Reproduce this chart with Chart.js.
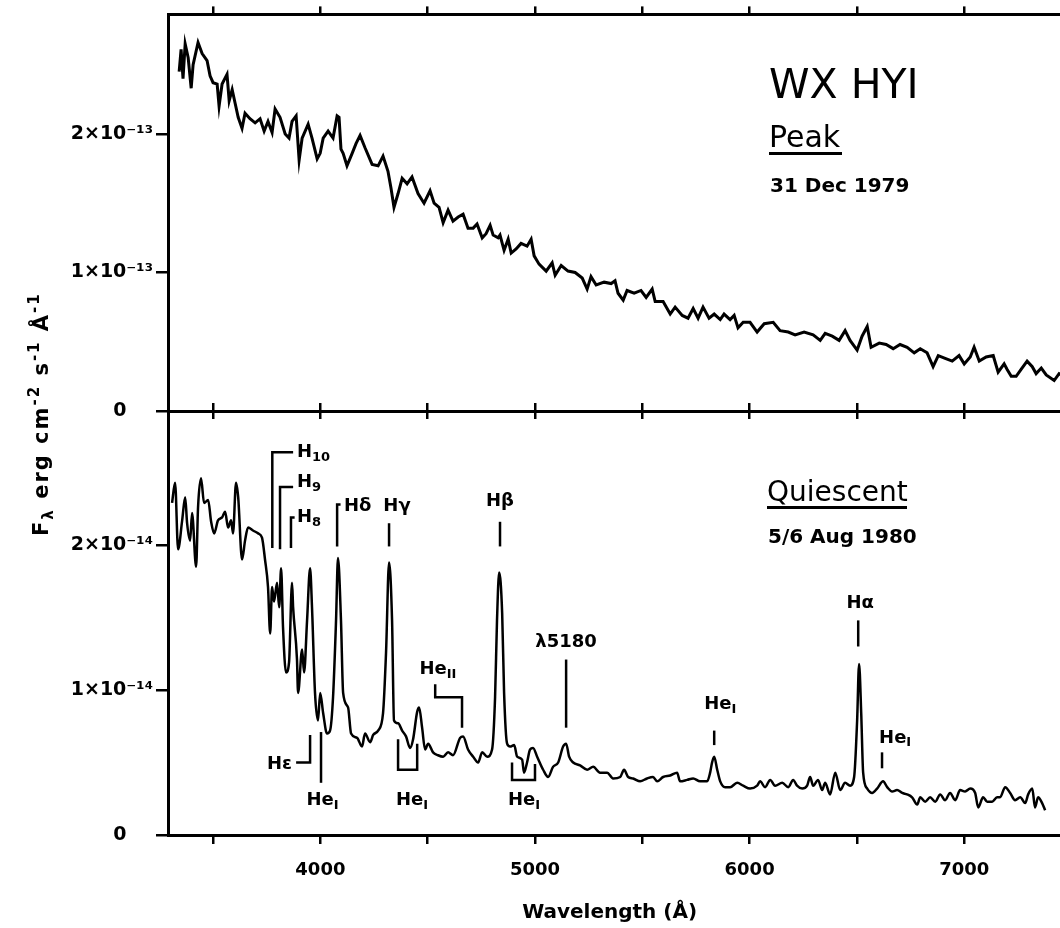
<!DOCTYPE html>
<html><head><meta charset="utf-8">
<script src="https://cdn.jsdelivr.net/npm/chart.js@4/dist/chart.umd.min.js"></script>
<style>
html,body{margin:0;padding:0;background:#fff;overflow:hidden;width:1060px;height:928px;}
#wrap{position:relative;width:1110px;height:928px;}
canvas{position:absolute;left:0;top:0;}
</style></head><body>
<div id="wrap"><canvas id="cTop" width="1110" height="928"></canvas><canvas id="cBot" width="1110" height="928"></canvas></div>
<script>
// ---- Data (wavelength in Å; peak flux in 1e-13, quiescent flux in 1e-14 erg cm^-2 s^-1 Å^-1) ----
const peakWave = [3342,3351,3360,3370,3384,3398,3407,3430,3449,3472,3486,3500,3519,3528,3542,3565,3575,3589,3603,3617,3635,3649,3672,3696,3719,3738,3756,3775,3789,3812,3836,3854,3868,3887,3901,3915,3943,3961,3985,3999,4013,4036,4059,4078,4087,4096,4106,4124,4148,4166,4185,4208,4241,4269,4292,4315,4329,4343,4362,4381,4404,4427,4455,4483,4511,4530,4553,4572,4595,4618,4642,4665,4688,4712,4730,4754,4772,4791,4805,4828,4837,4856,4875,4889,4912,4935,4963,4982,4996,5019,5052,5080,5094,5122,5154,5187,5220,5243,5261,5285,5322,5355,5373,5387,5411,5429,5462,5494,5518,5546,5560,5597,5630,5653,5686,5713,5737,5760,5783,5811,5835,5863,5881,5909,5928,5946,5970,6002,6035,6068,6110,6142,6180,6212,6254,6296,6329,6352,6385,6417,6445,6468,6501,6524,6548,6566,6604,6636,6669,6701,6734,6767,6795,6827,6855,6879,6911,6944,6976,7000,7028,7046,7070,7102,7135,7158,7186,7200,7219,7242,7265,7293,7317,7335,7359,7382,7419,7442,7480];
const peakFlux = [2.45,2.61,2.40,2.65,2.55,2.33,2.50,2.66,2.58,2.53,2.42,2.37,2.36,2.20,2.36,2.43,2.24,2.32,2.22,2.12,2.04,2.15,2.11,2.08,2.11,2.02,2.09,2.01,2.18,2.12,2.00,1.97,2.09,2.13,1.81,1.97,2.07,1.97,1.82,1.86,1.97,2.02,1.97,2.13,2.12,1.89,1.86,1.77,1.86,1.93,1.99,1.90,1.78,1.77,1.84,1.73,1.61,1.47,1.57,1.68,1.64,1.69,1.57,1.50,1.59,1.50,1.47,1.36,1.45,1.37,1.40,1.42,1.32,1.32,1.35,1.25,1.28,1.34,1.27,1.25,1.27,1.16,1.24,1.14,1.17,1.21,1.19,1.24,1.12,1.06,1.01,1.07,0.98,1.05,1.01,1.00,0.96,0.88,0.97,0.91,0.93,0.92,0.94,0.85,0.80,0.87,0.85,0.87,0.82,0.88,0.79,0.79,0.70,0.75,0.69,0.67,0.74,0.67,0.75,0.67,0.70,0.66,0.70,0.66,0.69,0.60,0.64,0.64,0.57,0.63,0.64,0.58,0.57,0.55,0.57,0.55,0.51,0.56,0.54,0.51,0.58,0.51,0.44,0.54,0.61,0.46,0.49,0.48,0.45,0.48,0.46,0.42,0.45,0.42,0.32,0.40,0.38,0.36,0.40,0.34,0.39,0.46,0.36,0.39,0.40,0.28,0.34,0.30,0.25,0.25,0.30,0.36,0.32,0.27,0.31,0.26,0.22,0.27,0.24];

const quietWave = [3309,3323,3337,3356,3370,3379,3393,3402,3421,3430,3444,3458,3477,3491,3505,3523,3542,3556,3570,3584,3593,3607,3617,3635,3649,3663,3686,3710,3728,3742,3756,3766,3775,3784,3798,3808,3817,3826,3840,3854,3868,3873,3891,3896,3915,3924,3938,3952,3961,3975,3989,3999,4013,4031,4045,4059,4073,4082,4096,4106,4129,4143,4171,4194,4208,4232,4246,4269,4292,4306,4320,4334,4343,4362,4381,4399,4418,4432,4451,4460,4474,4488,4502,4525,4548,4572,4595,4618,4651,4665,4688,4712,4735,4754,4777,4800,4814,4823,4833,4847,4856,4870,4884,4903,4917,4940,4949,4963,4977,4991,5010,5038,5061,5084,5108,5131,5145,5159,5178,5210,5243,5271,5303,5336,5364,5397,5415,5434,5457,5490,5522,5550,5569,5597,5630,5662,5676,5709,5737,5769,5802,5816,5825,5835,5849,5863,5886,5909,5942,5970,6002,6035,6049,6072,6096,6119,6152,6180,6203,6221,6245,6268,6282,6296,6319,6338,6352,6375,6399,6422,6445,6468,6487,6501,6510,6520,6529,6548,6571,6594,6622,6641,6664,6687,6711,6734,6757,6781,6795,6818,6841,6865,6888,6911,6934,6958,6981,7004,7028,7051,7065,7088,7107,7130,7153,7167,7191,7214,7237,7261,7284,7298,7317,7330,7344,7363,7377];
const quietFlux = [2.29,2.43,1.97,2.17,2.33,2.15,2.03,2.22,1.85,2.26,2.46,2.29,2.31,2.16,2.08,2.17,2.19,2.23,2.12,2.17,2.08,2.43,2.33,1.90,2.03,2.12,2.10,2.08,2.05,1.90,1.71,1.39,1.71,1.61,1.74,1.57,1.84,1.43,1.12,1.19,1.74,1.57,1.21,0.98,1.28,1.12,1.48,1.84,1.57,0.98,0.79,0.98,0.84,0.70,0.72,0.95,1.48,1.91,1.48,0.98,0.88,0.70,0.67,0.61,0.70,0.64,0.69,0.72,0.84,1.26,1.88,1.48,0.79,0.77,0.72,0.68,0.60,0.66,0.85,0.88,0.74,0.59,0.63,0.57,0.55,0.54,0.57,0.55,0.67,0.68,0.59,0.54,0.50,0.57,0.54,0.59,0.95,1.48,1.81,1.53,0.98,0.63,0.61,0.62,0.54,0.52,0.43,0.50,0.59,0.60,0.54,0.45,0.40,0.47,0.50,0.61,0.63,0.54,0.50,0.48,0.45,0.47,0.43,0.43,0.39,0.40,0.45,0.40,0.39,0.37,0.39,0.40,0.37,0.40,0.41,0.43,0.37,0.38,0.39,0.37,0.37,0.43,0.50,0.54,0.45,0.37,0.33,0.33,0.36,0.34,0.32,0.34,0.37,0.33,0.38,0.34,0.36,0.33,0.38,0.34,0.32,0.34,0.40,0.34,0.38,0.31,0.36,0.28,0.43,0.31,0.36,0.34,0.40,0.79,1.18,0.84,0.43,0.32,0.29,0.32,0.37,0.33,0.30,0.31,0.29,0.28,0.26,0.21,0.26,0.23,0.26,0.23,0.28,0.24,0.29,0.24,0.31,0.30,0.32,0.29,0.19,0.26,0.23,0.23,0.26,0.26,0.33,0.29,0.24,0.26,0.22,0.28,0.32,0.19,0.26,0.22,0.17];

const xTicks = [3500,4000,4500,5000,5500,6000,6500,7000,7500];
const yTicks = [0,1,2];
const xMin = 3290, xMax = 7600;
const peakMax = 2.863, quietMax = 2.924;

// line identifications in the quiescent panel (wavelength, flux in 1e-14)
const lineIds = [
  {label:['H','10'], lx:3891, ly:2.64, align:'left',   path:[[3776,1.98],[3776,2.64],[3873,2.64]]},
  {label:['H','9'],  lx:3891, ly:2.43, align:'left',   path:[[3812,1.97],[3812,2.40],[3873,2.40]]},
  {label:['H','8'],  lx:3891, ly:2.19, align:'left',   path:[[3863,1.98],[3863,2.19],[3880,2.19]]},
  {label:['Hδ',''],  lx:4110, ly:2.27, align:'left',   path:[[4078,1.99],[4078,2.28],[4094,2.28]]},
  {label:['Hγ',''],  lx:4357, ly:2.27, align:'center', path:[[4320,1.99],[4320,2.15]]},
  {label:['Hβ',''],  lx:4837, ly:2.30, align:'center', path:[[4837,1.99],[4837,2.16]]},
  {label:['λ5180',''], lx:5145, ly:1.33, align:'center', path:[[5145,0.74],[5145,1.21]]},
  {label:['He','II'], lx:4548, ly:1.14, align:'center', path:[[4535,1.04],[4535,0.95],[4660,0.95],[4660,0.74]]},
  {label:['Hε',''],  lx:3868, ly:0.49, align:'right',  path:[[3887,0.50],[3952,0.50],[3952,0.69]]},
  {label:['He','I'], lx:4010, ly:0.24, align:'center', path:[[4003,0.71],[4003,0.36]]},
  {label:['He','I'], lx:4427, ly:0.24, align:'center', path:[[4362,0.66],[4362,0.45],[4451,0.45],[4451,0.63]]},
  {label:['He','I'], lx:4949, ly:0.24, align:'center', path:[[4893,0.50],[4893,0.38],[5000,0.38],[5000,0.49]]},
  {label:['He','I'], lx:5863, ly:0.90, align:'center', path:[[5835,0.62],[5835,0.72]]},
  {label:['Hα',''],  lx:6515, ly:1.60, align:'center', path:[[6506,1.30],[6506,1.48]]},
  {label:['He','I'], lx:6678, ly:0.67, align:'center', path:[[6617,0.46],[6617,0.57]]}
];

// ---- Rendering ----
const FAM = "'DejaVu Sans', sans-serif";
Chart.defaults.color = '#000';
Chart.defaults.font.family = FAM;

function richText(ctx, x, y, parts, align) {
  let total = 0;
  for (const p of parts) { ctx.font = (p.w||'bold') + ' ' + p.s + 'px ' + FAM; p.width = ctx.measureText(p.t).width; total += p.width; }
  let cx = align === 'center' ? x - total/2 : (align === 'right' ? x - total : x);
  ctx.textAlign = 'left';
  for (const p of parts) { ctx.font = (p.w||'bold') + ' ' + p.s + 'px ' + FAM; ctx.fillText(p.t, cx, y + (p.dy||0)); cx += p.width; }
}

function xAxis(opts) {
  return Object.assign({
    type:'linear', min:xMin, max:xMax,
    afterBuildTicks: s => { s.ticks = xTicks.map(v => ({value:v})); },
    ticks:{display:false},
    grid:{drawOnChartArea:false, drawTicks:true, tickLength:8, color:'#000', lineWidth:2.5},
    border:{display:true, color:'#000', width:3}
  }, opts);
}
function yAxis(max, exp) {
  return {
    type:'linear', position:'left', min:0, max:max,
    afterBuildTicks: s => { s.ticks = yTicks.map(v => ({value:v})); },
    afterFit: s => { s.width = 168; },
    ticks:{padding:3, font:{size:19, weight:'bold'}, color:'#000',
      callback: v => v === 0 ? '0    ' : v + '×10' + exp},
    grid:{drawOnChartArea:false, drawTicks:true, tickLength:12, color:'#000', lineWidth:2.5},
    border:{display:true, color:'#000', width:3}
  };
}

const topTexts = {
  id:'topTexts',
  afterDraw(chart) {
    const ctx = chart.ctx;
    ctx.save();
    ctx.fillStyle = '#000';
    ctx.textBaseline = 'alphabetic';
    ctx.textAlign = 'left';
    ctx.font = '41px ' + FAM; ctx.fillText('WX HYI', 769, 98);
    ctx.font = '30px ' + FAM; ctx.fillText('Peak', 769, 147);
    ctx.fillRect(769, 152, 73, 3);
    ctx.font = 'bold 20px ' + FAM; ctx.fillText('31 Dec 1979', 770, 192);
    // y-axis title (spans both panels)
    ctx.translate(48, 536);
    ctx.rotate(-Math.PI/2);
    try { ctx.letterSpacing = '2px'; } catch(e) {}
    richText(ctx, 0, 0, [
      {t:'F', s:21}, {t:'λ', s:15, dy:5}, {t:' erg cm', s:21}, {t:'-2', s:15, dy:-9},
      {t:' s', s:21}, {t:'-1', s:15, dy:-9}, {t:' Å', s:21}, {t:'-1', s:15, dy:-9}
    ], 'left');
    ctx.restore();
  }
};

const botTexts = {
  id:'botTexts',
  afterDatasetsDraw(chart) {
    const ctx = chart.ctx, xs = chart.scales.x, ys = chart.scales.y;
    ctx.save();
    ctx.fillStyle = '#000';
    ctx.strokeStyle = '#000';
    ctx.lineWidth = 2.5;
    ctx.lineCap = 'butt';
    ctx.lineJoin = 'miter';
    for (const a of lineIds) {
      ctx.beginPath();
      a.path.forEach((p, i) => {
        const px = xs.getPixelForValue(p[0]), py = ys.getPixelForValue(p[1]);
        if (i === 0) ctx.moveTo(px, py); else ctx.lineTo(px, py);
      });
      ctx.stroke();
      ctx.textBaseline = 'middle';
      const parts = [{t:a.label[0], s:18}];
      if (a.label[1]) parts.push({t:a.label[1], s:13, dy:5});
      richText(ctx, xs.getPixelForValue(a.lx), ys.getPixelForValue(a.ly), parts, a.align);
    }
    ctx.textBaseline = 'alphabetic';
    ctx.textAlign = 'left';
    ctx.font = '28px ' + FAM; ctx.fillText('Quiescent', 767, 501);
    ctx.fillRect(767, 506, 140, 3);
    ctx.font = 'bold 20px ' + FAM; ctx.fillText('5/6 Aug 1980', 768, 543);
    ctx.restore();
  }
};

const common = {
  responsive:false, maintainAspectRatio:false, devicePixelRatio:1, animation:false, events:[],
  plugins:{legend:{display:false}, tooltip:{enabled:false}, title:{display:false}}
};

new Chart(document.getElementById('cTop'), {
  type:'line',
  data:{datasets:[{
    data: peakWave.map((w, i) => ({x:w, y:peakFlux[i]})),
    borderColor:'#000', borderWidth:3, pointRadius:0, tension:0, fill:false,
    xAxisID:'x', yAxisID:'y'
  }]},
  options:Object.assign({}, common, {
    layout:{padding:{left:0, top:13, right:17, bottom:0}},
    scales:{
      x: xAxis({position:'bottom', afterFit: s => { s.height = 517; }}),
      xTop: xAxis({position:'top', afterFit: s => { s.height = 0; }}),
      y: yAxis(peakMax, '⁻¹³')
    }
  }),
  plugins:[topTexts]
});

new Chart(document.getElementById('cBot'), {
  type:'line',
  data:{datasets:[{
    data: quietWave.map((w, i) => ({x:w, y:quietFlux[i]})),
    borderColor:'#000', borderWidth:2.5, pointRadius:0, cubicInterpolationMode:'monotone', fill:false,
    xAxisID:'x', yAxisID:'y'
  }]},
  options:Object.assign({}, common, {
    layout:{padding:{left:0, top:411, right:17, bottom:0}},
    scales:{
      x: xAxis({position:'bottom', afterFit: s => { s.height = 93; },
        grid:{drawOnChartArea:false, drawTicks:true, tickLength:9, color:'#000', lineWidth:2.5},
        ticks:{display:true, autoSkip:false, maxRotation:0, padding:16, font:{size:18, weight:'bold'}, color:'#000',
          callback: v => (v % 1000 === 0 ? String(v) : '')},
        title:{display:true, text:'Wavelength (Å)      ', color:'#000', font:{size:20, weight:'bold'}, padding:{top:0, bottom:3}}
      }),
      xTop: xAxis({position:'top', afterFit: s => { s.height = 0; }}),
      y: yAxis(quietMax, '⁻¹⁴')
    }
  }),
  plugins:[botTexts]
});
</script>
</body></html>
